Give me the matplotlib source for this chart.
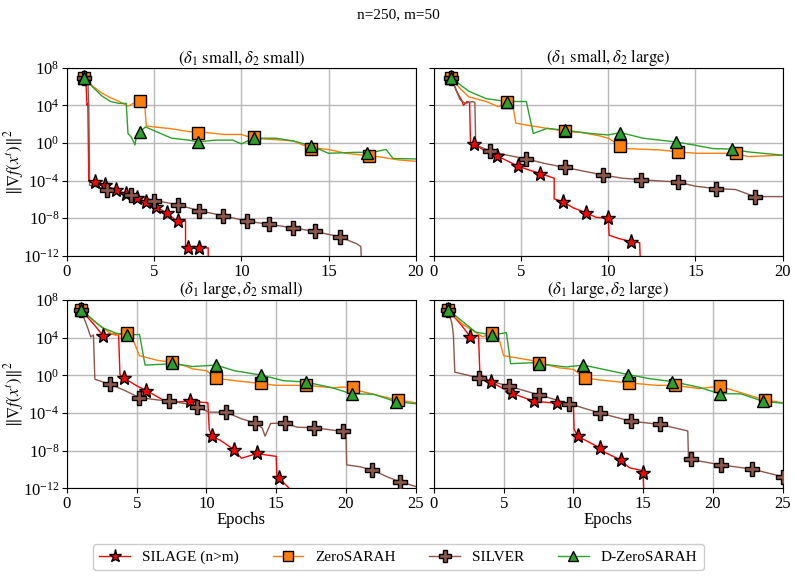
import numpy as np
import matplotlib
matplotlib.use("Agg")
import matplotlib.pyplot as plt
from matplotlib.lines import Line2D

plt.rcParams['font.family'] = ['Liberation Serif', 'DejaVu Serif']
plt.rcParams['mathtext.fontset'] = 'stix'
plt.rcParams['font.size'] = 12

# ---- data: (epoch, log10 ||grad f||^2) ----
# top-left: delta1 small, delta2 small
tl_silage = [(1, 6.9), (1.1, 6.0), (1.15, 4.0), (1.2, 4.2), (1.25, -4.0), (1.6, -4.1), (2.2, -4.5), (2.8, -5.0),
             (3.4, -5.4), (4.0, -5.8), (4.6, -6.3), (5.1, -6.8), (5.7, -7.4), (6.3, -8.3), (6.8, -8.3),
             (6.8, -11.15), (8.1, -11.15), (8.1, -13)]
tl_silage_mk = [(1, 6.9), (1.6, -4.1), (2.2, -4.5), (2.8, -5.0), (3.4, -5.4), (4.0, -5.8), (4.55, -6.3),
                (5.1, -6.8), (5.75, -7.4), (6.35, -8.3), (6.95, -11.15), (7.55, -11.15)]
tl_zero = [(1, 6.9), (1.5, 6.0), (2, 5.3), (2.5, 4.8), (3, 4.4), (3.5, 3.9), (3.8, 4.2), (4.2, 4.45), (4.45, 4.3),
           (4.55, 1.8), (5, 1.7), (6, 1.5), (7, 1.2), (8, 1.1), (9, 0.9), (10, 0.9), (10.5, 0.6), (11, 0.45),
           (12, 0.35), (13, 0.2), (13.5, -0.2), (14, -0.5), (15, -0.7), (16, -1.1), (17, -1.3), (18, -1.5),
           (19, -1.8), (20, -1.95)]
tl_zero_mk = [(1, 6.95), (4.2, 4.45), (7.5, 1.1), (10.75, 0.6), (14, -0.6), (17.3, -1.35)]
tl_silver = [(1, 6.9), (1.2, 6.5), (1.25, 4.0), (1.3, -4.5), (2.3, -4.9), (3.7, -5.5), (5, -6.1), (6.3, -6.55),
             (7.6, -7.2), (9, -7.75), (10.3, -8.3), (11.6, -8.65), (12.9, -9.0), (14.2, -9.4), (15.6, -9.95),
             (16.6, -10.7), (16.85, -11.0), (16.9, -13)]
tl_silver_mk = [(1, 6.9), (2.3, -5.0), (3.65, -5.5), (5.0, -6.15), (6.35, -6.55), (7.6, -7.2), (8.95, -7.75),
                (10.3, -8.3), (11.6, -8.65), (12.95, -9.0), (14.2, -9.4), (15.65, -10.0)]
tl_dzero = [(1, 6.9), (1.5, 5.9), (2, 5.0), (2.5, 4.4), (3, 4.2), (3.4, 4.2), (3.5, 1.0), (3.7, 0.6), (3.9, -0.2),
            (4.0, 0.9), (4.2, 1.2), (4.5, 1.7), (5, 1.3), (5.5, 0.9), (6, 0.5), (7, 0.3), (7.5, 0.1), (8.5, 0.3),
            (9.5, 0.3), (10, -0.1), (10.7, 0.5), (12, 0.5), (13, 0.2), (14, -0.3), (15, -1.1), (16.5, -1.0),
            (17.5, -1.0), (18.3, -0.7), (18.7, -1.65), (20, -1.7)]
tl_dzero_mk = [(1, 6.9), (4.2, 1.2), (7.5, 0.05), (10.7, 0.55), (14, -0.3), (17.2, -1.1)]

# top-right: delta1 small, delta2 large
tr_silage = [(1, 6.9), (1.3, 5.5), (1.6, 4.5), (1.7, 4.0), (1.9, 4.4), (2.05, 4.3), (2.1, -0.1), (2.3, -0.15),
             (3.0, -0.9), (3.6, -1.35), (4.2, -1.9), (4.8, -2.45), (5.5, -2.9), (6.1, -3.25), (6.9, -3.75),
             (6.9, -5.95), (7.4, -6.25), (8.0, -6.9), (8.7, -7.4), (9.3, -7.9), (10.0, -8.0), (10.05, -9.8),
             (10.5, -10.1), (11.3, -10.5), (11.8, -10.6), (11.85, -13)]
tr_silage_mk = [(1, 6.9), (2.3, -0.15), (3.6, -1.35), (4.8, -2.45), (6.1, -3.25), (7.4, -6.25), (8.7, -7.4),
                (10.0, -8.0), (11.3, -10.5)]
tr_zero = [(1, 6.9), (1.5, 5.8), (2, 4.9), (3, 4.4), (3.7, 3.85), (4.2, 4.4), (4.5, 4.3), (4.7, 2.1), (5.5, 1.85),
           (6.3, 1.6), (7.5, 1.25), (8.5, 1.1), (9.5, 0.75), (10.0, 0.5), (10.7, -0.3), (11, -0.6), (13, -0.75),
           (14, -0.95), (15, -1.1), (16.5, -1.1), (17.3, -1.1), (18, -1.45), (20, -1.3)]
tr_zero_mk = [(1, 6.95), (4.2, 4.4), (7.5, 1.25), (10.7, -0.3), (14, -0.95), (17.3, -1.1)]
tr_silver = [(1, 6.9), (1.5, 4.6), (1.8, 4.2), (2.2, 4.4), (2.35, 4.3), (2.4, -0.2), (3.2, -0.85), (4.2, -1.3),
             (5.3, -1.7), (6.4, -2.2), (7.5, -2.6), (8.6, -3.0), (9.7, -3.4), (10.8, -3.75), (11.9, -3.9),
             (13, -4.05), (14, -4.15), (15, -4.6), (16.2, -4.85), (17.3, -4.95), (18.4, -5.7), (20, -5.7)]
tr_silver_mk = [(1, 6.9), (3.2, -0.85), (5.3, -1.7), (7.5, -2.6), (9.7, -3.4), (11.9, -3.9), (14, -4.15),
                (16.2, -4.85), (18.4, -5.7)]
tr_dzero = [(1, 6.9), (2, 5.5), (3, 4.7), (4.2, 4.4), (5.3, 4.4), (5.7, 1.0), (6.5, 1.55), (7.5, 1.35), (9, 1.0),
            (10, 0.85), (10.7, 1.1), (12, 0.5), (13.9, 0.1), (15, -0.25), (16, -0.6), (17.1, -0.65), (18, -0.95),
            (20, -1.3)]
tr_dzero_mk = [(1, 6.9), (4.2, 4.4), (7.5, 1.35), (10.7, 1.1), (13.9, 0.15), (17.1, -0.65)]

# bottom-left: delta1 large, delta2 small
bl_silage = [(1, 7.0), (2, 5.3), (2.6, 4.2), (3.0, 4.4), (3.7, 4.4), (3.8, 0.1), (4.1, -0.3), (5, -1.1),
             (5.7, -1.6), (7, -2.7), (8, -2.8), (8.8, -2.75), (10.1, -2.9), (10.2, -5.75), (10.4, -6.45),
             (11, -6.9), (12, -7.9), (12.5, -8.8), (13.6, -8.3), (15.0, -8.6), (15.05, -10.8), (15.2, -10.9),
             (16, -12.1)]
bl_silage_mk = [(1, 7.0), (2.6, 4.2), (4.1, -0.3), (5.7, -1.6), (8.8, -2.75), (10.4, -6.45), (12.0, -7.9),
                (13.6, -8.25), (15.2, -10.85)]
bl_zero = [(1, 7.0), (2, 5.7), (3, 4.6), (3.5, 4.25), (4.3, 4.55), (4.6, 4.3), (5.2, 2.1), (6.5, 1.6), (7.5, 1.4),
           (8.5, 1.0), (9, 0.7), (10, 0.5), (10.7, -0.3), (12, -0.55), (13.9, -0.85), (15, -1.05), (17.1, -1.05),
           (19, -1.3), (20.5, -1.2), (21, -1.65), (22.5, -2.2), (23.7, -2.6), (25, -2.9)]
bl_zero_mk = [(1, 7.0), (4.3, 4.55), (7.5, 1.4), (10.7, -0.3), (13.9, -0.85), (17.1, -1.05), (20.5, -1.2),
              (23.7, -2.65)]
bl_silver = [(1, 7.0), (1.5, 5.0), (1.7, 4.1), (1.9, 4.3), (2.0, -0.4), (3.1, -0.95), (4, -1.5), (5.2, -2.35),
             (6.5, -2.6), (7.3, -2.7), (8.5, -3.0), (9.3, -3.35), (10.2, -3.9), (11.4, -3.9), (12.5, -4.6),
             (13.5, -5.05), (14.0, -5.6), (14.2, -6.45), (14.6, -5.1), (15.6, -5.05), (16.5, -5.5), (17.7, -5.55),
             (19.8, -5.95), (20.0, -5.95), (20.05, -9.5), (21, -9.7), (21.9, -10.05), (23, -10.8), (23.9, -11.3),
             (25, -11.8)]
bl_silver_mk = [(1, 7.0), (3.1, -0.95), (5.2, -2.35), (7.3, -2.7), (9.3, -3.35), (11.4, -3.9), (13.5, -5.05),
                (15.6, -5.05), (17.7, -5.55), (19.8, -5.95), (21.9, -10.05), (23.9, -11.3)]
bl_dzero = [(1, 7.0), (2.5, 5.1), (3.5, 4.5), (4.3, 4.3), (5.2, 4.35), (5.6, 1.1), (7, 1.2), (7.5, 1.3), (9, 0.95),
            (10.7, 1.1), (12, 0.5), (13.9, 0.05), (15.5, -0.55), (17.1, -0.7), (19, -1.3), (20.4, -1.95),
            (22, -2.0), (23.6, -2.8), (25, -3.0)]
bl_dzero_mk = [(1, 7.0), (4.3, 4.3), (7.5, 1.3), (10.7, 1.1), (13.9, 0.05), (17.1, -0.7), (20.4, -1.95),
               (23.6, -2.8)]

# bottom-right: delta1 large, delta2 large
br_silage = [(1, 7.0), (2, 5.3), (2.6, 4.1), (3.2, 4.25), (3.3, 0.15), (4.1, -0.7), (5.6, -1.9), (7.2, -2.75),
             (8.8, -2.95), (10, -2.95), (10.05, -5.7), (10.3, -6.45), (11.9, -7.7), (12.3, -8.2), (13.4, -9.0),
             (14, -9.8), (14.9, -10.1), (15.0, -10.4), (15.05, -12.5)]
br_silage_mk = [(1, 7.0), (2.6, 4.1), (4.1, -0.7), (5.6, -1.9), (7.2, -2.75), (8.8, -2.95), (10.3, -6.45),
                (11.9, -7.7), (13.4, -9.0), (15.0, -10.4)]
br_zero = [(1, 7.0), (2, 5.5), (3.5, 4.1), (4.2, 4.55), (4.6, 4.3), (5, 2.1), (7, 1.6), (7.5, 1.35), (9, 0.8),
           (10, 0.65), (10.8, -0.25), (12, -0.5), (14, -0.8), (16, -1.05), (17.3, -1.05), (19, -1.4),
           (20.5, -1.15), (21.5, -1.6), (23.7, -2.6), (25, -2.9)]
br_zero_mk = [(1, 7.0), (4.2, 4.55), (7.5, 1.35), (10.8, -0.25), (14, -0.8), (17.3, -1.05), (20.5, -1.15),
              (23.7, -2.6)]
br_silver = [(1, 7.0), (1.3, 5.5), (1.4, 4.3), (1.5, 0.35), (3.2, -0.25), (5.4, -1.15), (7.5, -2.05), (9.7, -3.0),
             (11.9, -4.0), (14.1, -4.85), (16.2, -5.2), (18.2, -5.9), (18.25, -8.9), (20.6, -9.5), (22.8, -9.95),
             (25, -10.75)]
br_silver_mk = [(1, 7.0), (3.2, -0.25), (5.4, -1.15), (7.5, -2.05), (9.7, -3.0), (11.9, -4.0), (14.1, -4.85),
                (16.2, -5.2), (18.4, -8.9), (20.6, -9.5), (22.8, -9.95), (25, -10.75)]
br_dzero = [(1, 7.0), (3, 4.6), (4.2, 4.3), (5.2, 4.55), (5.5, 1.25), (7, 1.35), (7.5, 1.25), (9.5, 0.9),
            (10.7, 1.1), (12, 0.7), (13.9, 0.1), (15.5, -0.35), (17.1, -0.65), (19, -1.25), (20.5, -1.95),
            (22, -1.95), (23.6, -2.75), (25, -2.95)]
br_dzero_mk = [(1, 7.0), (4.2, 4.3), (7.5, 1.25), (10.7, 1.1), (13.9, 0.1), (17.1, -0.65), (20.5, -1.95),
               (23.6, -2.75)]

titles = [r'$(\delta_1\ \mathrm{small}, \delta_2\ \mathrm{small})$',
          r'$(\delta_1\ \mathrm{small}, \delta_2\ \mathrm{large})$',
          r'$(\delta_1\ \mathrm{large}, \delta_2\ \mathrm{small})$',
          r'$(\delta_1\ \mathrm{large}, \delta_2\ \mathrm{large})$']
labels = ['SILAGE (n>m)', 'ZeroSARAH', 'SILVER', 'D-ZeroSARAH']
colors = ['#ff0000', '#ff7f0e', '#8c564b', '#2ca02c']
markers = ['*', 's', 'P', '^']
msizes = [11, 9, 9.5, 9]

panels = [
    [(tl_silage, tl_silage_mk), (tl_zero, tl_zero_mk), (tl_silver, tl_silver_mk), (tl_dzero, tl_dzero_mk)],
    [(tr_silage, tr_silage_mk), (tr_zero, tr_zero_mk), (tr_silver, tr_silver_mk), (tr_dzero, tr_dzero_mk)],
    [(bl_silage, bl_silage_mk), (bl_zero, bl_zero_mk), (bl_silver, bl_silver_mk), (bl_dzero, bl_dzero_mk)],
    [(br_silage, br_silage_mk), (br_zero, br_zero_mk), (br_silver, br_silver_mk), (br_dzero, br_dzero_mk)],
]
xmax = [20, 20, 25, 25]

fig, axes = plt.subplots(2, 2, figsize=(7.97, 5.78), dpi=100)
fig.subplots_adjust(left=0.084, right=0.982, top=0.883, bottom=0.155, wspace=0.052, hspace=0.235)
axes = axes.ravel()

for k, ax in enumerate(axes):
    for j, (line, mk) in enumerate(panels[k]):
        lx = [p[0] for p in line]
        ly = 10.0 ** np.array([p[1] for p in line])
        mx = [p[0] for p in mk]
        my = 10.0 ** np.array([p[1] for p in mk])
        ax.plot(lx, ly, color=colors[j], lw=1.0, zorder=2)
        ax.plot(mx, my, ls='none', marker=markers[j], ms=msizes[j], mfc=colors[j], mec='black',
                mew=1.0, zorder=3)
    ax.set_yscale('log')
    ax.set_ylim(1e-12, 1e8)
    ax.set_xlim(0, xmax[k])
    ax.set_yticks([1e-12, 1e-8, 1e-4, 1e0, 1e4, 1e8])
    ax.yaxis.set_minor_locator(matplotlib.ticker.NullLocator())
    ax.tick_params(labelsize=12, pad=2)
    ax.grid(True, color='#b8b8b8', lw=1.0)
    ax.set_axisbelow(True)
    ax.set_title(titles[k], fontsize=12, pad=3)
    if k % 2 == 1:
        ax.set_yticklabels([])
    else:
        ax.set_ylabel(r'$\|\nabla f(x^t)\|^2$', fontsize=12)
        ax.yaxis.set_label_coords(-0.118, 0.5)
    if k >= 2:
        ax.set_xlabel('Epochs', fontsize=12, labelpad=0)

fig.suptitle('n=250, m=50', fontsize=11, y=0.985)

handles = [Line2D([], [], color=colors[j], lw=1.0, marker=markers[j], ms=msizes[j] - 1.5, mfc=colors[j],
                  mec='black') for j in range(4)]
fig.legend(handles, labels, loc='center', bbox_to_anchor=(0.5, 0.036), ncol=4, fontsize=11,
           columnspacing=2.2, handlelength=2.0, framealpha=1.0)

plt.savefig('out.png', dpi=100)
